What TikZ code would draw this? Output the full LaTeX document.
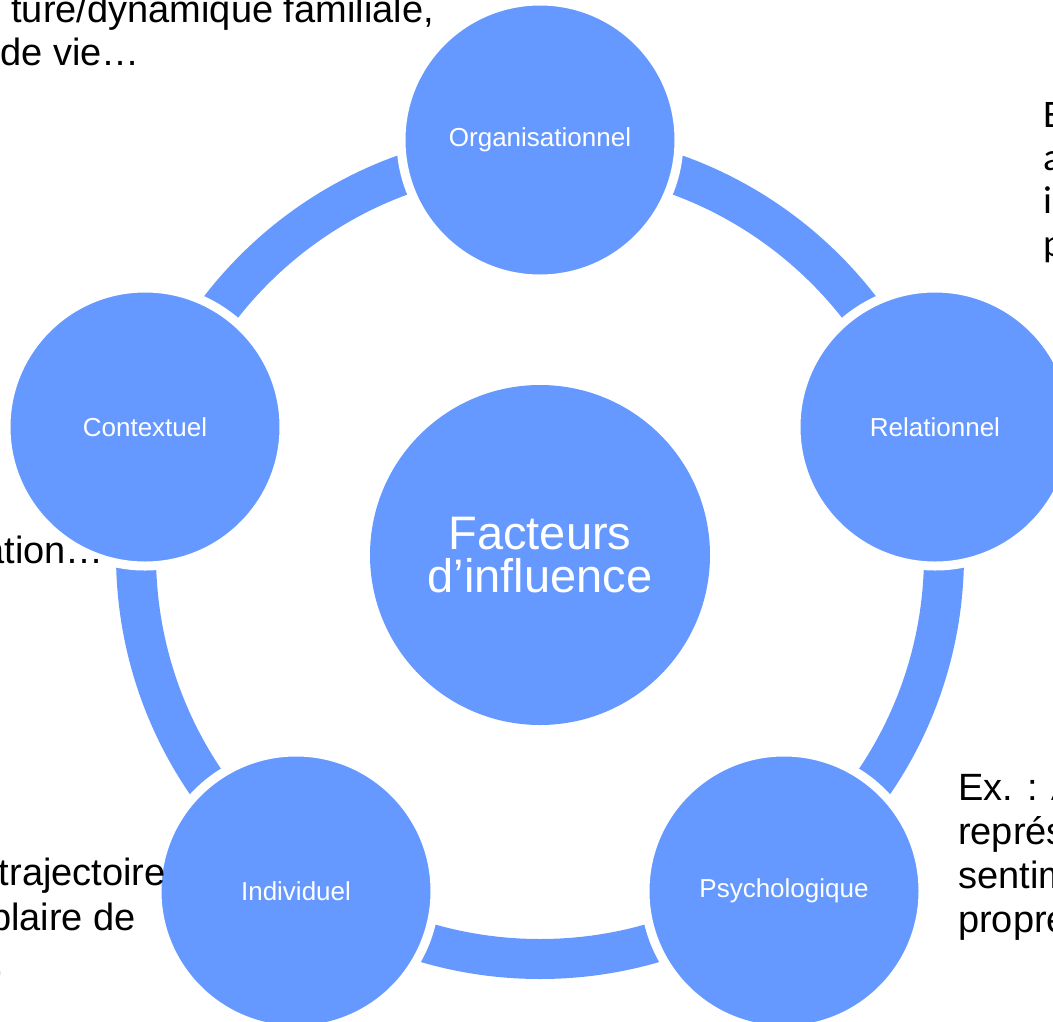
\documentclass[tikz,border=0pt]{standalone}
\usepackage{fontspec}
\setmainfont{Liberation Sans}
\newfontfamily\notefont{Carlito}
\usetikzlibrary{backgrounds}
\definecolor{facteurblue}{RGB}{102,153,255}

\begin{document}
\begin{tikzpicture}[x=1pt,y=-1pt]
                \tikzstyle{every node}+=[inner sep=0pt]
                \tikzset{
                  petal/.style={circle, fill=facteurblue, draw=white, line width=9pt, minimum size=278pt, text=white, font=\fontsize{26}{30}\selectfont},
                  hub/.style={circle, fill=facteurblue, minimum size=340pt, text=white, align=center, font=\fontsize{47}{43}\selectfont},
                  ring/.style={draw=facteurblue, line width=40pt},
                  side/.style={text=black, font=\fontsize{38}{44}\selectfont}
                }
                \useasboundingbox (0,0) rectangle (1053,1021);
                \clip (0,0) rectangle (1053,1021);
                \node [hub] (facteurs) at (540,555) {Facteurs\\d'influence};
                \node [petal] (organisationnel) at (540,140) {Organisationnel};
                \node [petal] (relationnel) at (935,427) {Relationnel};
                \node [petal] (psychologique) at (784,891) {Psychologique};
                \node [petal] (individuel) at (296,891) {Individuel};
                \node [petal] (contextuel) at (145,427) {Contextuel};
                \begin{pgfonlayer}{background}
                \draw [ring] (facteurs.center) circle (404pt);
                \end{pgfonlayer}
                % texts cut by the page edge
                \node [side, anchor=base east] (orgnote1) at (434,22) {ture/dynamique familiale,};
                \node [side, anchor=base east] (orgnote2) at (140,65) {de vie…};
                \node [side, anchor=base east] (ctxnote) at (104,563) {ation…};
                \node [side, anchor=base east] (indnote1) at (166,885) {trajectoire};
                \node [side, anchor=base east] (indnote2) at (136,930) {plaire de};
                \node [side, anchor=base east] (indnote3) at (4,975) {.};
                \node [side, font=\notefont\fontsize{39}{43}\selectfont, anchor=base west] (relnote1) at (1043,127) {E};
                \node [side, font=\notefont\fontsize{39}{43}\selectfont, anchor=base west] (relnote2) at (1043,170) {a};
                \node [side, font=\notefont\fontsize{39}{43}\selectfont, anchor=base west] (relnote3) at (1043,213) {in};
                \node [side, font=\notefont\fontsize{39}{43}\selectfont, anchor=base west] (relnote4) at (1043,256) {p};
                \node [side, anchor=base west] (psynote1) at (958,800) {Ex. : A};
                \node [side, anchor=base west] (psynote2) at (958,844) {représ};
                \node [side, anchor=base west] (psynote3) at (958,888) {sentim};
                \node [side, anchor=base west] (psynote4) at (958,932) {propre};
            \end{tikzpicture}
\end{document}
